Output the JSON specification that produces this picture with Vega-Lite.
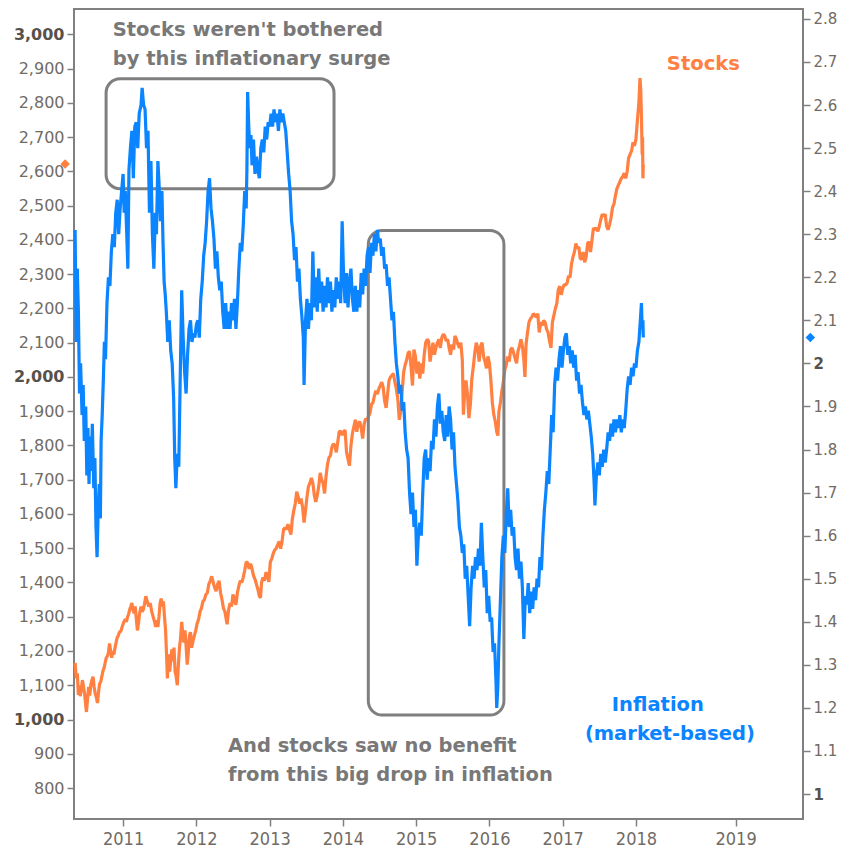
{
  "$schema": "https://vega.github.io/schema/vega-lite/v6.json",
  "width": 729,
  "height": 810,
  "autosize": {"type": "none"},
  "padding": {"left": 74, "top": 9, "right": 45, "bottom": 33},
  "background": "white",
  "config": {
    "view": {"stroke": "#808080", "strokeWidth": 2},
    "axis": {"grid": false, "domain": false, "tickColor": "#808080", "tickWidth": 1.5, "tickSize": 7, "labelFont": "DejaVu Sans", "labelFontSize": 16, "labelColor": "#716b65", "labelPadding": 3, "title": null}
  },
  "datasets": {
    "stocks": [
      {"t":2010.345,"v":1165},{"t":2010.36,"v":1120},{"t":2010.375,"v":1135},{"t":2010.39,"v":1072},{"t":2010.40,"v":1100},{"t":2010.415,"v":1068},{"t":2010.43,"v":1090},{"t":2010.445,"v":1115},{"t":2010.46,"v":1095},{"t":2010.475,"v":1075},{"t":2010.49,"v":1041},{"t":2010.50,"v":1022},{"t":2010.515,"v":1060},{"t":2010.53,"v":1095},{"t":2010.545,"v":1070},{"t":2010.56,"v":1102},{"t":2010.575,"v":1115},{"t":2010.59,"v":1125},{"t":2010.605,"v":1095},{"t":2010.62,"v":1075},{"t":2010.635,"v":1065},{"t":2010.65,"v":1048},{"t":2010.665,"v":1080},{"t":2010.68,"v":1105},{"t":2010.695,"v":1110},{"t":2010.71,"v":1125},{"t":2010.725,"v":1142},{"t":2010.74,"v":1150},{"t":2010.755,"v":1165},{"t":2010.77,"v":1180},{"t":2010.785,"v":1185},{"t":2010.80,"v":1195},{"t":2010.815,"v":1222},{"t":2010.83,"v":1200},{"t":2010.845,"v":1180},{"t":2010.86,"v":1200},{"t":2010.875,"v":1190},{"t":2010.89,"v":1210},{"t":2010.905,"v":1225},{"t":2010.92,"v":1240},{"t":2010.935,"v":1245},{"t":2010.95,"v":1255},{"t":2010.97,"v":1258},{"t":2010.99,"v":1272},
      {"t":2011.01,"v":1285},{"t":2011.03,"v":1293},{"t":2011.045,"v":1285},{"t":2011.06,"v":1299},{"t":2011.075,"v":1307},{"t":2011.09,"v":1321},{"t":2011.105,"v":1330},{"t":2011.12,"v":1340},{"t":2011.135,"v":1320},{"t":2011.15,"v":1310},{"t":2011.165,"v":1330},{"t":2011.18,"v":1295},{"t":2011.195,"v":1260},{"t":2011.21,"v":1280},{"t":2011.225,"v":1310},{"t":2011.245,"v":1330},{"t":2011.26,"v":1315},{"t":2011.275,"v":1320},{"t":2011.29,"v":1335},{"t":2011.31,"v":1360},{"t":2011.33,"v":1345},{"t":2011.35,"v":1330},{"t":2011.37,"v":1340},{"t":2011.39,"v":1316},{"t":2011.41,"v":1300},{"t":2011.43,"v":1285},{"t":2011.445,"v":1270},{"t":2011.46,"v":1290},{"t":2011.475,"v":1270},{"t":2011.49,"v":1300},{"t":2011.505,"v":1340},{"t":2011.52,"v":1353},{"t":2011.535,"v":1330},{"t":2011.55,"v":1345},{"t":2011.565,"v":1300},{"t":2011.58,"v":1260},{"t":2011.595,"v":1180},{"t":2011.605,"v":1120},{"t":2011.62,"v":1190},{"t":2011.635,"v":1140},{"t":2011.65,"v":1170},{"t":2011.665,"v":1205},{"t":2011.68,"v":1170},{"t":2011.695,"v":1210},{"t":2011.71,"v":1140},{"t":2011.725,"v":1125},{"t":2011.74,"v":1100},{"t":2011.755,"v":1160},{"t":2011.77,"v":1210},{"t":2011.785,"v":1240},{"t":2011.80,"v":1285},{"t":2011.815,"v":1250},{"t":2011.83,"v":1225},{"t":2011.845,"v":1260},{"t":2011.86,"v":1215},{"t":2011.875,"v":1160},{"t":2011.89,"v":1195},{"t":2011.905,"v":1245},{"t":2011.92,"v":1255},{"t":2011.935,"v":1210},{"t":2011.95,"v":1225},{"t":2011.97,"v":1243},{"t":2011.99,"v":1258},
      {"t":2012.01,"v":1280},{"t":2012.03,"v":1292},{"t":2012.05,"v":1315},{"t":2012.07,"v":1325},{"t":2012.09,"v":1345},{"t":2012.11,"v":1350},{"t":2012.13,"v":1365},{"t":2012.15,"v":1370},{"t":2012.17,"v":1395},{"t":2012.19,"v":1405},{"t":2012.21,"v":1418},{"t":2012.23,"v":1400},{"t":2012.25,"v":1385},{"t":2012.27,"v":1375},{"t":2012.29,"v":1395},{"t":2012.31,"v":1405},{"t":2012.33,"v":1370},{"t":2012.35,"v":1350},{"t":2012.37,"v":1325},{"t":2012.39,"v":1315},{"t":2012.41,"v":1290},{"t":2012.42,"v":1278},{"t":2012.44,"v":1320},{"t":2012.46,"v":1340},{"t":2012.48,"v":1330},{"t":2012.50,"v":1365},{"t":2012.52,"v":1350},{"t":2012.54,"v":1335},{"t":2012.56,"v":1370},{"t":2012.58,"v":1390},{"t":2012.60,"v":1405},{"t":2012.62,"v":1400},{"t":2012.64,"v":1415},{"t":2012.66,"v":1435},{"t":2012.68,"v":1460},{"t":2012.70,"v":1458},{"t":2012.72,"v":1440},{"t":2012.74,"v":1455},{"t":2012.76,"v":1440},{"t":2012.78,"v":1420},{"t":2012.80,"v":1410},{"t":2012.82,"v":1395},{"t":2012.84,"v":1380},{"t":2012.86,"v":1360},{"t":2012.875,"v":1355},{"t":2012.89,"v":1400},{"t":2012.91,"v":1415},{"t":2012.93,"v":1405},{"t":2012.95,"v":1430},{"t":2012.97,"v":1420},{"t":2012.99,"v":1402},
      {"t":2013.01,"v":1460},{"t":2013.03,"v":1470},{"t":2013.05,"v":1485},{"t":2013.07,"v":1495},{"t":2013.09,"v":1500},{"t":2013.11,"v":1510},{"t":2013.13,"v":1520},{"t":2013.15,"v":1499},{"t":2013.17,"v":1520},{"t":2013.19,"v":1555},{"t":2013.21,"v":1560},{"t":2013.23,"v":1555},{"t":2013.25,"v":1570},{"t":2013.27,"v":1555},{"t":2013.29,"v":1540},{"t":2013.31,"v":1585},{"t":2013.33,"v":1610},{"t":2013.35,"v":1630},{"t":2013.37,"v":1665},{"t":2013.39,"v":1650},{"t":2013.41,"v":1630},{"t":2013.43,"v":1645},{"t":2013.45,"v":1620},{"t":2013.47,"v":1575},{"t":2013.49,"v":1610},{"t":2013.51,"v":1650},{"t":2013.53,"v":1680},{"t":2013.55,"v":1690},{"t":2013.57,"v":1705},{"t":2013.59,"v":1690},{"t":2013.61,"v":1655},{"t":2013.63,"v":1635},{"t":2013.65,"v":1655},{"t":2013.67,"v":1680},{"t":2013.69,"v":1720},{"t":2013.71,"v":1700},{"t":2013.73,"v":1690},{"t":2013.75,"v":1660},{"t":2013.77,"v":1710},{"t":2013.79,"v":1745},{"t":2013.81,"v":1765},{"t":2013.83,"v":1770},{"t":2013.85,"v":1795},{"t":2013.87,"v":1805},{"t":2013.89,"v":1800},{"t":2013.91,"v":1780},{"t":2013.93,"v":1810},{"t":2013.95,"v":1840},{"t":2013.97,"v":1842},{"t":2013.99,"v":1830},
      {"t":2014.01,"v":1840},{"t":2014.03,"v":1845},{"t":2014.05,"v":1780},{"t":2014.07,"v":1760},{"t":2014.09,"v":1741},{"t":2014.11,"v":1800},{"t":2014.13,"v":1835},{"t":2014.15,"v":1855},{"t":2014.17,"v":1875},{"t":2014.19,"v":1840},{"t":2014.21,"v":1865},{"t":2014.23,"v":1870},{"t":2014.25,"v":1850},{"t":2014.27,"v":1820},{"t":2014.29,"v":1862},{"t":2014.31,"v":1878},{"t":2014.33,"v":1875},{"t":2014.35,"v":1885},{"t":2014.37,"v":1895},{"t":2014.39,"v":1920},{"t":2014.41,"v":1925},{"t":2014.43,"v":1945},{"t":2014.45,"v":1960},{"t":2014.47,"v":1950},{"t":2014.49,"v":1965},{"t":2014.51,"v":1975},{"t":2014.53,"v":1985},{"t":2014.55,"v":1970},{"t":2014.57,"v":1930},{"t":2014.59,"v":1910},{"t":2014.61,"v":1950},{"t":2014.63,"v":1990},{"t":2014.65,"v":2000},{"t":2014.67,"v":2005},{"t":2014.69,"v":2010},{"t":2014.71,"v":1985},{"t":2014.73,"v":1965},{"t":2014.75,"v":1935},{"t":2014.77,"v":1875},{"t":2014.79,"v":1900},{"t":2014.81,"v":1960},{"t":2014.83,"v":2015},{"t":2014.85,"v":2035},{"t":2014.87,"v":2050},{"t":2014.89,"v":2070},{"t":2014.91,"v":2075},{"t":2014.93,"v":2030},{"t":2014.95,"v":1975},{"t":2014.97,"v":2080},{"t":2014.99,"v":2060},
      {"t":2015.01,"v":2010},{"t":2015.03,"v":2045},{"t":2015.05,"v":1995},{"t":2015.07,"v":2040},{"t":2015.09,"v":2010},{"t":2015.11,"v":2065},{"t":2015.13,"v":2100},{"t":2015.15,"v":2110},{"t":2015.17,"v":2105},{"t":2015.19,"v":2045},{"t":2015.21,"v":2075},{"t":2015.23,"v":2100},{"t":2015.25,"v":2065},{"t":2015.27,"v":2085},{"t":2015.29,"v":2100},{"t":2015.31,"v":2110},{"t":2015.33,"v":2085},{"t":2015.35,"v":2115},{"t":2015.37,"v":2125},{"t":2015.39,"v":2120},{"t":2015.41,"v":2105},{"t":2015.43,"v":2110},{"t":2015.45,"v":2085},{"t":2015.47,"v":2065},{"t":2015.49,"v":2095},{"t":2015.51,"v":2080},{"t":2015.53,"v":2120},{"t":2015.55,"v":2110},{"t":2015.57,"v":2095},{"t":2015.59,"v":2085},{"t":2015.61,"v":2100},{"t":2015.63,"v":2050},{"t":2015.645,"v":1890},{"t":2015.66,"v":1950},{"t":2015.68,"v":1990},{"t":2015.70,"v":1950},{"t":2015.72,"v":1880},{"t":2015.74,"v":1920},{"t":2015.76,"v":1995},{"t":2015.78,"v":2030},{"t":2015.80,"v":2070},{"t":2015.82,"v":2100},{"t":2015.84,"v":2085},{"t":2015.86,"v":2045},{"t":2015.88,"v":2090},{"t":2015.90,"v":2100},{"t":2015.92,"v":2060},{"t":2015.94,"v":2045},{"t":2015.96,"v":2025},{"t":2015.98,"v":2060},
      {"t":2016.0,"v":2040},{"t":2016.02,"v":1990},{"t":2016.04,"v":1925},{"t":2016.06,"v":1890},{"t":2016.08,"v":1870},{"t":2016.10,"v":1840},{"t":2016.115,"v":1829},{"t":2016.13,"v":1900},{"t":2016.15,"v":1925},{"t":2016.17,"v":1960},{"t":2016.19,"v":1985},{"t":2016.21,"v":2020},{"t":2016.23,"v":2035},{"t":2016.25,"v":2060},{"t":2016.27,"v":2045},{"t":2016.29,"v":2080},{"t":2016.31,"v":2085},{"t":2016.33,"v":2070},{"t":2016.35,"v":2055},{"t":2016.37,"v":2040},{"t":2016.39,"v":2075},{"t":2016.41,"v":2090},{"t":2016.43,"v":2110},{"t":2016.45,"v":2090},{"t":2016.47,"v":2050},{"t":2016.485,"v":2000},{"t":2016.50,"v":2095},{"t":2016.52,"v":2130},{"t":2016.54,"v":2160},{"t":2016.56,"v":2170},{"t":2016.58,"v":2175},{"t":2016.60,"v":2185},{"t":2016.62,"v":2180},{"t":2016.64,"v":2175},{"t":2016.66,"v":2185},{"t":2016.68,"v":2130},{"t":2016.70,"v":2160},{"t":2016.72,"v":2150},{"t":2016.74,"v":2165},{"t":2016.76,"v":2160},{"t":2016.78,"v":2140},{"t":2016.80,"v":2130},{"t":2016.82,"v":2105},{"t":2016.84,"v":2085},{"t":2016.86,"v":2160},{"t":2016.88,"v":2180},{"t":2016.90,"v":2200},{"t":2016.92,"v":2215},{"t":2016.94,"v":2255},{"t":2016.96,"v":2265},{"t":2016.98,"v":2240},
      {"t":2017.0,"v":2258},{"t":2017.02,"v":2270},{"t":2017.04,"v":2268},{"t":2017.06,"v":2275},{"t":2017.08,"v":2295},{"t":2017.10,"v":2290},{"t":2017.12,"v":2330},{"t":2017.14,"v":2350},{"t":2017.16,"v":2365},{"t":2017.18,"v":2390},{"t":2017.20,"v":2375},{"t":2017.22,"v":2380},{"t":2017.24,"v":2345},{"t":2017.26,"v":2345},{"t":2017.28,"v":2365},{"t":2017.30,"v":2335},{"t":2017.32,"v":2350},{"t":2017.34,"v":2390},{"t":2017.36,"v":2395},{"t":2017.38,"v":2365},{"t":2017.40,"v":2400},{"t":2017.42,"v":2435},{"t":2017.44,"v":2430},{"t":2017.46,"v":2435},{"t":2017.48,"v":2425},{"t":2017.50,"v":2440},{"t":2017.52,"v":2460},{"t":2017.54,"v":2475},{"t":2017.56,"v":2470},{"t":2017.58,"v":2475},{"t":2017.60,"v":2440},{"t":2017.62,"v":2430},{"t":2017.64,"v":2445},{"t":2017.66,"v":2465},{"t":2017.68,"v":2495},{"t":2017.70,"v":2505},{"t":2017.72,"v":2530},{"t":2017.74,"v":2550},{"t":2017.76,"v":2560},{"t":2017.78,"v":2570},{"t":2017.80,"v":2580},{"t":2017.82,"v":2585},{"t":2017.84,"v":2595},{"t":2017.86,"v":2580},{"t":2017.88,"v":2600},{"t":2017.90,"v":2640},{"t":2017.92,"v":2650},{"t":2017.94,"v":2660},{"t":2017.96,"v":2685},{"t":2017.98,"v":2675},
      {"t":2018.0,"v":2695},{"t":2018.02,"v":2750},{"t":2018.04,"v":2800},{"t":2018.055,"v":2873},{"t":2018.065,"v":2840},{"t":2018.075,"v":2760},{"t":2018.085,"v":2650},{"t":2018.09,"v":2700},{"t":2018.095,"v":2580},{"t":2018.1,"v":2620}
    ],
    "inflation": [
      {"t":2010.345,"v":2.31},{"t":2010.36,"v":2.05},{"t":2010.375,"v":2.22},{"t":2010.39,"v":2.12},{"t":2010.405,"v":1.93},{"t":2010.42,"v":2.0},{"t":2010.44,"v":1.88},{"t":2010.455,"v":1.95},{"t":2010.47,"v":1.82},{"t":2010.49,"v":1.9},{"t":2010.505,"v":1.74},{"t":2010.52,"v":1.85},{"t":2010.535,"v":1.72},{"t":2010.55,"v":1.83},{"t":2010.565,"v":1.75},{"t":2010.58,"v":1.86},{"t":2010.6,"v":1.71},{"t":2010.615,"v":1.78},{"t":2010.63,"v":1.62},{"t":2010.645,"v":1.55},{"t":2010.66,"v":1.66},{"t":2010.675,"v":1.72},{"t":2010.69,"v":1.64},{"t":2010.70,"v":1.82},{"t":2010.715,"v":1.88},{"t":2010.73,"v":1.96},{"t":2010.745,"v":2.05},{"t":2010.76,"v":2.01},{"t":2010.78,"v":2.14},{"t":2010.80,"v":2.2},{"t":2010.82,"v":2.18},{"t":2010.84,"v":2.26},{"t":2010.86,"v":2.3},{"t":2010.88,"v":2.27},{"t":2010.9,"v":2.35},{"t":2010.92,"v":2.38},{"t":2010.94,"v":2.3},{"t":2010.96,"v":2.36},
      {"t":2011.0,"v":2.44},{"t":2011.015,"v":2.35},{"t":2011.03,"v":2.4},{"t":2011.05,"v":2.3},{"t":2011.065,"v":2.22},{"t":2011.08,"v":2.45},{"t":2011.10,"v":2.5},{"t":2011.12,"v":2.54},{"t":2011.14,"v":2.43},{"t":2011.16,"v":2.55},{"t":2011.18,"v":2.56},{"t":2011.20,"v":2.5},{"t":2011.22,"v":2.58},{"t":2011.245,"v":2.6},{"t":2011.26,"v":2.64},{"t":2011.28,"v":2.6},{"t":2011.3,"v":2.59},{"t":2011.32,"v":2.5},{"t":2011.34,"v":2.54},{"t":2011.36,"v":2.35},{"t":2011.38,"v":2.47},{"t":2011.40,"v":2.3},{"t":2011.42,"v":2.22},{"t":2011.44,"v":2.35},{"t":2011.455,"v":2.3},{"t":2011.475,"v":2.47},{"t":2011.49,"v":2.42},{"t":2011.51,"v":2.33},{"t":2011.53,"v":2.4},{"t":2011.545,"v":2.28},{"t":2011.56,"v":2.19},{"t":2011.575,"v":2.16},{"t":2011.59,"v":2.12},{"t":2011.61,"v":2.05},{"t":2011.63,"v":2.1},{"t":2011.65,"v":2.03},{"t":2011.67,"v":2.0},{"t":2011.69,"v":1.92},{"t":2011.705,"v":1.78},{"t":2011.72,"v":1.71},{"t":2011.74,"v":1.79},{"t":2011.76,"v":1.76},{"t":2011.78,"v":1.97},{"t":2011.80,"v":2.17},{"t":2011.82,"v":2.06},{"t":2011.84,"v":1.98},{"t":2011.86,"v":1.93},{"t":2011.88,"v":2.02},{"t":2011.90,"v":2.08},{"t":2011.92,"v":2.1},{"t":2011.94,"v":2.05},{"t":2011.96,"v":2.07},{"t":2011.98,"v":2.06},
      {"t":2012.0,"v":2.09},{"t":2012.02,"v":2.1},{"t":2012.04,"v":2.06},{"t":2012.06,"v":2.15},{"t":2012.08,"v":2.19},{"t":2012.10,"v":2.25},{"t":2012.12,"v":2.28},{"t":2012.14,"v":2.33},{"t":2012.16,"v":2.4},{"t":2012.18,"v":2.43},{"t":2012.20,"v":2.36},{"t":2012.22,"v":2.33},{"t":2012.24,"v":2.29},{"t":2012.26,"v":2.22},{"t":2012.28,"v":2.26},{"t":2012.30,"v":2.2},{"t":2012.32,"v":2.17},{"t":2012.34,"v":2.19},{"t":2012.36,"v":2.12},{"t":2012.38,"v":2.08},{"t":2012.40,"v":2.14},{"t":2012.42,"v":2.08},{"t":2012.44,"v":2.12},{"t":2012.46,"v":2.08},{"t":2012.48,"v":2.14},{"t":2012.50,"v":2.1},{"t":2012.52,"v":2.15},{"t":2012.54,"v":2.08},{"t":2012.56,"v":2.14},{"t":2012.58,"v":2.22},{"t":2012.60,"v":2.28},{"t":2012.62,"v":2.26},{"t":2012.64,"v":2.32},{"t":2012.66,"v":2.4},{"t":2012.68,"v":2.36},{"t":2012.69,"v":2.45},{"t":2012.70,"v":2.63},{"t":2012.715,"v":2.55},{"t":2012.73,"v":2.5},{"t":2012.745,"v":2.53},{"t":2012.76,"v":2.46},{"t":2012.78,"v":2.52},{"t":2012.80,"v":2.44},{"t":2012.82,"v":2.48},{"t":2012.84,"v":2.45},{"t":2012.86,"v":2.43},{"t":2012.88,"v":2.5},{"t":2012.90,"v":2.52},{"t":2012.92,"v":2.49},{"t":2012.94,"v":2.55},{"t":2012.96,"v":2.52},{"t":2012.98,"v":2.56},
      {"t":2013.0,"v":2.55},{"t":2013.02,"v":2.58},{"t":2013.04,"v":2.55},{"t":2013.06,"v":2.59},{"t":2013.08,"v":2.56},{"t":2013.10,"v":2.58},{"t":2013.12,"v":2.54},{"t":2013.14,"v":2.59},{"t":2013.16,"v":2.56},{"t":2013.18,"v":2.58},{"t":2013.20,"v":2.56},{"t":2013.22,"v":2.54},{"t":2013.24,"v":2.49},{"t":2013.26,"v":2.44},{"t":2013.28,"v":2.4},{"t":2013.30,"v":2.33},{"t":2013.32,"v":2.3},{"t":2013.34,"v":2.24},{"t":2013.36,"v":2.27},{"t":2013.38,"v":2.19},{"t":2013.40,"v":2.22},{"t":2013.42,"v":2.15},{"t":2013.44,"v":2.11},{"t":2013.46,"v":2.06},{"t":2013.47,"v":1.95},{"t":2013.49,"v":2.1},{"t":2013.51,"v":2.15},{"t":2013.53,"v":2.08},{"t":2013.55,"v":2.14},{"t":2013.57,"v":2.1},{"t":2013.59,"v":2.26},{"t":2013.61,"v":2.13},{"t":2013.63,"v":2.2},{"t":2013.65,"v":2.12},{"t":2013.67,"v":2.22},{"t":2013.69,"v":2.14},{"t":2013.71,"v":2.19},{"t":2013.73,"v":2.12},{"t":2013.75,"v":2.18},{"t":2013.77,"v":2.13},{"t":2013.79,"v":2.2},{"t":2013.81,"v":2.14},{"t":2013.83,"v":2.19},{"t":2013.85,"v":2.12},{"t":2013.87,"v":2.17},{"t":2013.89,"v":2.13},{"t":2013.91,"v":2.2},{"t":2013.93,"v":2.15},{"t":2013.95,"v":2.19},{"t":2013.97,"v":2.14},{"t":2013.99,"v":2.33},
      {"t":2014.01,"v":2.2},{"t":2014.03,"v":2.14},{"t":2014.05,"v":2.21},{"t":2014.07,"v":2.13},{"t":2014.09,"v":2.19},{"t":2014.11,"v":2.22},{"t":2014.13,"v":2.15},{"t":2014.15,"v":2.12},{"t":2014.17,"v":2.18},{"t":2014.19,"v":2.12},{"t":2014.21,"v":2.17},{"t":2014.23,"v":2.13},{"t":2014.25,"v":2.21},{"t":2014.27,"v":2.16},{"t":2014.29,"v":2.22},{"t":2014.31,"v":2.18},{"t":2014.33,"v":2.25},{"t":2014.35,"v":2.27},{"t":2014.37,"v":2.21},{"t":2014.39,"v":2.28},{"t":2014.41,"v":2.25},{"t":2014.43,"v":2.3},{"t":2014.45,"v":2.26},{"t":2014.47,"v":2.31},{"t":2014.49,"v":2.28},{"t":2014.51,"v":2.29},{"t":2014.53,"v":2.25},{"t":2014.55,"v":2.27},{"t":2014.57,"v":2.22},{"t":2014.59,"v":2.23},{"t":2014.61,"v":2.18},{"t":2014.63,"v":2.2},{"t":2014.65,"v":2.15},{"t":2014.67,"v":2.1},{"t":2014.69,"v":2.12},{"t":2014.71,"v":2.05},{"t":2014.73,"v":2.0},{"t":2014.75,"v":1.97},{"t":2014.77,"v":1.93},{"t":2014.79,"v":1.95},{"t":2014.81,"v":1.89},{"t":2014.83,"v":1.91},{"t":2014.85,"v":1.84},{"t":2014.87,"v":1.8},{"t":2014.89,"v":1.78},{"t":2014.91,"v":1.7},{"t":2014.93,"v":1.65},{"t":2014.95,"v":1.7},{"t":2014.97,"v":1.62},{"t":2014.99,"v":1.66},
      {"t":2015.01,"v":1.53},{"t":2015.03,"v":1.6},{"t":2015.05,"v":1.63},{"t":2015.07,"v":1.6},{"t":2015.09,"v":1.7},{"t":2015.11,"v":1.78},{"t":2015.13,"v":1.8},{"t":2015.15,"v":1.73},{"t":2015.17,"v":1.78},{"t":2015.19,"v":1.75},{"t":2015.21,"v":1.82},{"t":2015.23,"v":1.8},{"t":2015.25,"v":1.87},{"t":2015.27,"v":1.83},{"t":2015.29,"v":1.9},{"t":2015.31,"v":1.93},{"t":2015.33,"v":1.86},{"t":2015.35,"v":1.89},{"t":2015.37,"v":1.84},{"t":2015.39,"v":1.82},{"t":2015.41,"v":1.88},{"t":2015.43,"v":1.83},{"t":2015.45,"v":1.9},{"t":2015.47,"v":1.87},{"t":2015.49,"v":1.8},{"t":2015.51,"v":1.84},{"t":2015.53,"v":1.76},{"t":2015.55,"v":1.72},{"t":2015.57,"v":1.68},{"t":2015.59,"v":1.62},{"t":2015.61,"v":1.6},{"t":2015.63,"v":1.56},{"t":2015.65,"v":1.58},{"t":2015.67,"v":1.5},{"t":2015.69,"v":1.53},{"t":2015.71,"v":1.46},{"t":2015.73,"v":1.39},{"t":2015.75,"v":1.48},{"t":2015.77,"v":1.53},{"t":2015.79,"v":1.5},{"t":2015.81,"v":1.55},{"t":2015.83,"v":1.52},{"t":2015.85,"v":1.57},{"t":2015.87,"v":1.53},{"t":2015.89,"v":1.63},{"t":2015.91,"v":1.55},{"t":2015.93,"v":1.48},{"t":2015.95,"v":1.52},{"t":2015.97,"v":1.42},{"t":2015.99,"v":1.46},
      {"t":2016.01,"v":1.4},{"t":2016.03,"v":1.41},{"t":2016.05,"v":1.33},{"t":2016.07,"v":1.35},{"t":2016.09,"v":1.26},{"t":2016.10,"v":1.2},{"t":2016.115,"v":1.25},{"t":2016.13,"v":1.35},{"t":2016.15,"v":1.45},{"t":2016.17,"v":1.55},{"t":2016.19,"v":1.6},{"t":2016.21,"v":1.56},{"t":2016.23,"v":1.65},{"t":2016.25,"v":1.71},{"t":2016.27,"v":1.62},{"t":2016.29,"v":1.66},{"t":2016.31,"v":1.6},{"t":2016.33,"v":1.62},{"t":2016.35,"v":1.55},{"t":2016.37,"v":1.52},{"t":2016.39,"v":1.57},{"t":2016.41,"v":1.5},{"t":2016.43,"v":1.54},{"t":2016.45,"v":1.48},{"t":2016.47,"v":1.36},{"t":2016.49,"v":1.46},{"t":2016.51,"v":1.44},{"t":2016.53,"v":1.49},{"t":2016.55,"v":1.42},{"t":2016.57,"v":1.47},{"t":2016.59,"v":1.43},{"t":2016.61,"v":1.48},{"t":2016.63,"v":1.45},{"t":2016.65,"v":1.5},{"t":2016.67,"v":1.48},{"t":2016.69,"v":1.55},{"t":2016.71,"v":1.52},{"t":2016.73,"v":1.6},{"t":2016.75,"v":1.66},{"t":2016.77,"v":1.7},{"t":2016.79,"v":1.75},{"t":2016.81,"v":1.72},{"t":2016.83,"v":1.8},{"t":2016.85,"v":1.88},{"t":2016.87,"v":1.84},{"t":2016.89,"v":1.95},{"t":2016.91,"v":1.99},{"t":2016.93,"v":1.96},{"t":2016.95,"v":2.01},{"t":2016.97,"v":2.04},{"t":2016.99,"v":1.99},
      {"t":2017.01,"v":2.03},{"t":2017.03,"v":2.06},{"t":2017.05,"v":2.07},{"t":2017.07,"v":2.02},{"t":2017.09,"v":2.04},{"t":2017.11,"v":2.0},{"t":2017.13,"v":2.03},{"t":2017.15,"v":1.99},{"t":2017.17,"v":2.02},{"t":2017.19,"v":1.96},{"t":2017.21,"v":1.98},{"t":2017.23,"v":1.93},{"t":2017.25,"v":1.95},{"t":2017.27,"v":1.91},{"t":2017.29,"v":1.88},{"t":2017.31,"v":1.9},{"t":2017.33,"v":1.87},{"t":2017.35,"v":1.89},{"t":2017.37,"v":1.86},{"t":2017.39,"v":1.83},{"t":2017.41,"v":1.79},{"t":2017.43,"v":1.72},{"t":2017.44,"v":1.67},{"t":2017.46,"v":1.74},{"t":2017.48,"v":1.77},{"t":2017.50,"v":1.74},{"t":2017.52,"v":1.79},{"t":2017.54,"v":1.76},{"t":2017.56,"v":1.8},{"t":2017.58,"v":1.77},{"t":2017.60,"v":1.8},{"t":2017.62,"v":1.84},{"t":2017.64,"v":1.82},{"t":2017.66,"v":1.86},{"t":2017.68,"v":1.83},{"t":2017.70,"v":1.87},{"t":2017.72,"v":1.84},{"t":2017.74,"v":1.87},{"t":2017.76,"v":1.85},{"t":2017.78,"v":1.88},{"t":2017.80,"v":1.84},{"t":2017.82,"v":1.87},{"t":2017.84,"v":1.85},{"t":2017.86,"v":1.89},{"t":2017.88,"v":1.94},{"t":2017.90,"v":1.97},{"t":2017.92,"v":1.95},{"t":2017.94,"v":1.99},{"t":2017.96,"v":1.97},{"t":2017.98,"v":2.0},
      {"t":2018.0,"v":1.99},{"t":2018.02,"v":2.03},{"t":2018.04,"v":2.05},{"t":2018.06,"v":2.1},{"t":2018.075,"v":2.14},{"t":2018.085,"v":2.08},{"t":2018.095,"v":2.1},{"t":2018.10,"v":2.06}
    ]
  },
  "encoding": {
    "x": {
      "field": "t", "type": "quantitative",
      "scale": {"domain": [2010.33, 2020.28], "nice": false, "zero": false},
      "axis": {"orient": "bottom", "values": [2011, 2012, 2013, 2014, 2015, 2016, 2017, 2018, 2019.36], "labelExpr": "'' + floor(datum.value)", "labelFont": "Liberation Sans Narrow, DejaVu Sans Condensed, DejaVu Sans", "labelFontSize": 18, "labelPadding": 4}
    }
  },
  "layer": [
    {
      "encoding": {
        "y": {
          "field": "v", "type": "quantitative",
          "scale": {"domain": [709.5, 3074.4], "nice": false, "zero": false},
          "axis": {
            "orient": "left",
            "values": [800, 900, 1000, 1100, 1200, 1300, 1400, 1500, 1600, 1700, 1800, 1900, 2000, 2100, 2200, 2300, 2400, 2500, 2600, 2700, 2800, 2900, 3000],
            "format": ",.0f",
            "labelFontWeight": {"condition": {"test": "datum.value % 1000 === 0", "value": "bold"}, "value": "normal"},
            "labelColor": {"condition": {"test": "datum.value % 1000 === 0", "value": "#57514b"}, "value": "#716b65"}
          }
        }
      },
      "layer": [
        {
          "data": {"name": "stocks"},
          "mark": {"type": "line", "color": "#FF8040", "strokeWidth": 3.2, "strokeJoin": "bevel"}
        },
        {
          "data": {"values": [
            {"t": 2010.768, "t2": 2013.879, "v": 2870.7, "v2": 2549.8},
            {"t": 2014.347, "t2": 2016.198, "v": 2428, "v2": 1013}
          ]},
          "mark": {"type": "rect", "filled": false, "stroke": "#7f7f7f", "strokeWidth": 3, "cornerRadius": 14},
          "encoding": {"x2": {"field": "t2"}, "y2": {"field": "v2"}}
        },
        {
          "data": {"values": [
            {"t": 2010.859, "v": 2997, "label": "Stocks weren't bothered"},
            {"t": 2010.859, "v": 2912, "label": "by this inflationary surge"},
            {"t": 2012.432, "v": 905, "label": "And stocks saw no benefit"},
            {"t": 2012.432, "v": 820, "label": "from this big drop in inflation"}
          ]},
          "mark": {"type": "text", "align": "left", "baseline": "alphabetic", "font": "DejaVu Sans", "fontWeight": "bold", "fontSize": 19.5, "color": "#787878"},
          "encoding": {"text": {"field": "label"}}
        },
        {
          "data": {"values": [{"t": 2018.422, "v": 2895, "label": "Stocks"}]},
          "mark": {"type": "text", "align": "left", "baseline": "alphabetic", "font": "DejaVu Sans", "fontWeight": "bold", "fontSize": 19.5, "color": "#FF8040"},
          "encoding": {"text": {"field": "label"}}
        },
        {
          "data": {"values": [{"t": 2010.209, "v": 2622}]},
          "mark": {"type": "point", "shape": "diamond", "filled": true, "size": 90, "color": "#FF8040", "opacity": 1}
        }
      ]
    },
    {
      "encoding": {
        "y": {
          "field": "v", "type": "quantitative",
          "scale": {"domain": [0.942, 2.823], "nice": false, "zero": false},
          "axis": {
            "orient": "right",
            "values": [1, 1.1, 1.2, 1.3, 1.4, 1.5, 1.6, 1.7, 1.8, 1.9, 2, 2.1, 2.2, 2.3, 2.4, 2.5, 2.6, 2.7, 2.8],
            "format": ".1~f",
            "labelFontSize": 15,
            "labelFontWeight": {"condition": {"test": "abs(datum.value - round(datum.value)) < 0.001", "value": "bold"}, "value": "normal"},
            "labelColor": {"condition": {"test": "abs(datum.value - round(datum.value)) < 0.001", "value": "#57514b"}, "value": "#716b65"}
          }
        }
      },
      "layer": [
        {
          "data": {"name": "inflation"},
          "mark": {"type": "line", "color": "#0A84FF", "strokeWidth": 3.2, "strokeJoin": "bevel"}
        },
        {
          "data": {"values": [
            {"t": 2017.671, "v": 1.193, "label": "Inflation"},
            {"t": 2017.303, "v": 1.126, "label": "(market-based)"}
          ]},
          "mark": {"type": "text", "align": "left", "baseline": "alphabetic", "font": "DejaVu Sans", "fontWeight": "bold", "fontSize": 19.5, "color": "#0A84FF"},
          "encoding": {"text": {"field": "label"}}
        },
        {
          "data": {"values": [{"t": 2020.38, "v": 2.06}]},
          "mark": {"type": "point", "shape": "diamond", "filled": true, "size": 90, "color": "#0A84FF", "opacity": 1}
        }
      ]
    }
  ],
  "resolve": {"scale": {"y": "independent"}}
}
